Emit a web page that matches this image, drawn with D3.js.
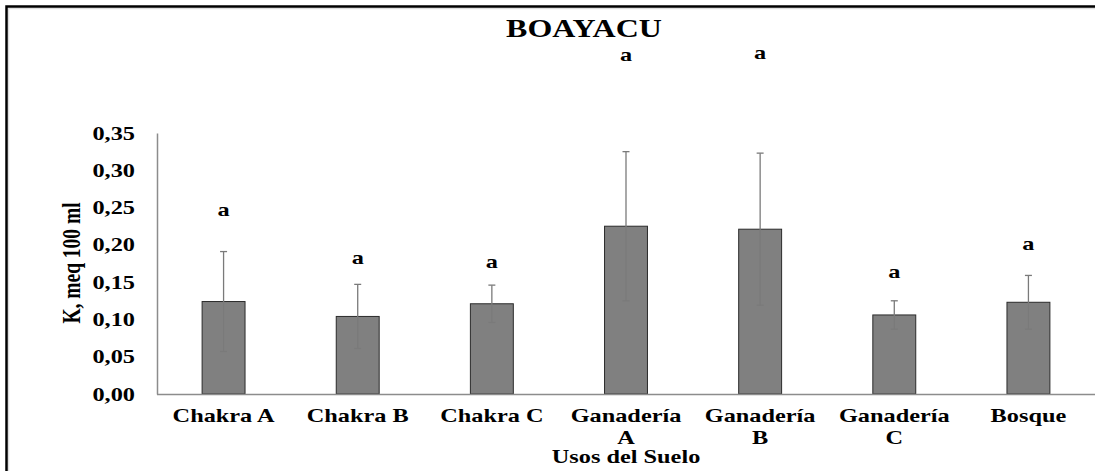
<!DOCTYPE html>
<html>
<head>
<meta charset="utf-8">
<script src="https://cdn.jsdelivr.net/npm/d3@7"></script>
<style>
  html, body { margin: 0; padding: 0; background: #fff; }
  svg { display: block; }
</style>
</head>
<body>
<svg id="chart" width="1095" height="471"></svg>
<script>
// ---- data ----
const categories = [["Chakra A"], ["Chakra B"], ["Chakra C"], ["Ganadería", "A"], ["Ganadería", "B"], ["Ganadería", "C"], ["Bosque"]];
const means = [0.124, 0.104, 0.121, 0.225, 0.221, 0.106, 0.123];
const errors = [0.067, 0.043, 0.025, 0.100, 0.102, 0.019, 0.036];
const letters = ["a", "a", "a", "a", "a", "a", "a"];
const letterPos = [0.239, 0.174, 0.169, 0.447, 0.449, 0.156, 0.193];
const yTicks = [0, 0.05, 0.10, 0.15, 0.20, 0.25, 0.30, 0.35];
const title = "BOAYACU";
const yTitle = "K, meq 100 ml";
const xTitle = "Usos del Suelo";

// ---- layout ----
const SX = 1.28; // horizontal stretch of the text in the reference
const FONT = "'Liberation Serif', 'Times New Roman', Tinos, 'DejaVu Serif', serif";
const svg = d3.select("#chart");
const keys = categories.map(c => c.join(" "));
const x = d3.scaleBand().domain(keys).range([156.5, 1095.5]).paddingInner(0.68).paddingOuter(0.34);
const y = d3.scaleLinear().domain([0, 0.35]).range([394, 133]);
const fmt = v => d3.format(".2f")(v).replace(".", ",");

function stext(g, str, tx, ty, size, anchor, extra) {
  return g.append("text")
    .attr("transform", `translate(${tx},${ty}) scale(${SX},1)` + (extra || ""))
    .attr("text-anchor", anchor)
    .attr("font-family", FONT)
    .attr("font-weight", "bold")
    .attr("font-size", size)
    .attr("fill", "#000")
    .text(str);
}

// outer frame
svg.append("rect").attr("x", 8.5).attr("y", 8.5).attr("width", 1200).attr("height", 600)
  .attr("fill", "none").attr("stroke", "#ddd").attr("stroke-width", 1.5);
svg.append("rect").attr("x", 6.5).attr("y", 6.5).attr("width", 1200).attr("height", 600)
  .attr("fill", "none").attr("stroke", "#000").attr("stroke-width", 2.5);

// title
stext(svg, title, 584, 37, 25, "middle");

// bars
const gBars = svg.append("g");
gBars.selectAll("rect").data(means).join("rect")
  .attr("x", (d, i) => x(keys[i]))
  .attr("y", d => y(d))
  .attr("width", x.bandwidth())
  .attr("height", d => y(0) - y(d))
  .attr("fill", "#808080")
  .attr("stroke", "#2b2b2b")
  .attr("stroke-width", 1);

// error bars
const gErr = svg.append("g").attr("stroke", "#7a7a7a").attr("stroke-width", 1.3);
means.forEach((m, i) => {
  const cx = x(keys[i]) + x.bandwidth() / 2;
  const top = y(m + errors[i]), bot = y(m - errors[i]);
  gErr.append("line").attr("x1", cx).attr("x2", cx).attr("y1", top).attr("y2", bot);
  gErr.append("line").attr("x1", cx - 3.5).attr("x2", cx + 3.5).attr("y1", top).attr("y2", top);
  gErr.append("line").attr("x1", cx - 3.5).attr("x2", cx + 3.5).attr("y1", bot).attr("y2", bot);
});

// axes lines
const yAxis = d3.axisLeft(y).tickValues(yTicks).tickSize(0).tickFormat("");
const gy = svg.append("g").attr("transform", "translate(157,0)").call(yAxis);
gy.select(".domain").attr("stroke", "#8c8c8c").attr("stroke-width", 1.5);
const xAxis = d3.axisBottom(x).tickSize(0).tickFormat("");
const gx = svg.append("g").attr("transform", "translate(0,394)").call(xAxis);
gx.select(".domain").attr("stroke", "#8c8c8c").attr("stroke-width", 1.5);

// y tick labels
yTicks.forEach(v => {
  stext(svg, fmt(v), 135, y(v) + 6.5, 19, "end");
});

// x tick labels
categories.forEach((c, i) => {
  const cx = x(keys[i]) + x.bandwidth() / 2;
  c.forEach((line, j) => stext(svg, line, cx, 422 + j * 22, 19, "middle"));
});

// significance letters
letters.forEach((l, i) => {
  const cx = x(keys[i]) + x.bandwidth() / 2;
  stext(svg, l, cx, y(letterPos[i]), 19, "middle");
});

// axis titles
stext(svg, yTitle, 80, 263, 19.5, "middle", " rotate(-90)");
stext(svg, xTitle, 626, 463, 19, "middle");
</script>
</body>
</html>
